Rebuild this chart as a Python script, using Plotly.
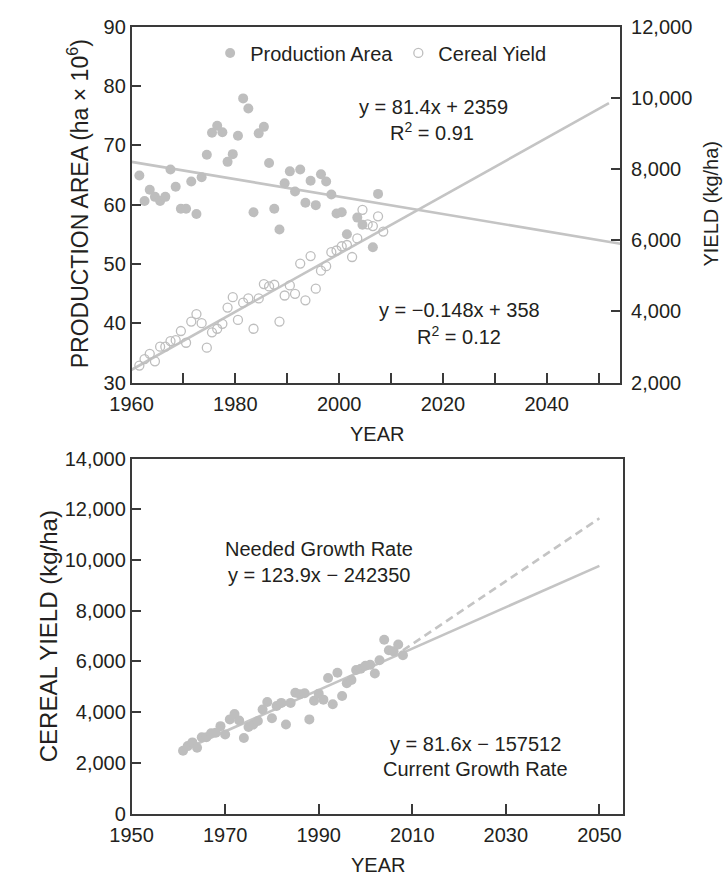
import plotly.graph_objects as go

# ---------------- data ----------------
years = list(range(1961, 2009))
cereal_yield = [2476, 2659, 2806, 2595, 3007, 3007, 3163, 3190, 3447, 3117,
                3712, 3923, 3667, 2980, 3410, 3511, 3648, 4106, 4399, 3758,
                4244, 4363, 3511, 4363, 4766, 4701, 4747, 3712, 4445, 4729,
                4491, 5343, 4308, 5553, 4637, 5141, 5269, 5663, 5709, 5828,
                5864, 5526, 6048, 6853, 6441, 6396, 6670, 6240]

area_years = [1961, 1962, 1963, 1964, 1965, 1966, 1967, 1968, 1969, 1970,
              1971, 1972, 1973, 1974, 1975, 1976, 1977, 1978, 1979, 1980,
              1981, 1982, 1983, 1984, 1985, 1986, 1987, 1988, 1989, 1990,
              1991, 1992, 1993, 1994, 1995, 1996, 1997, 1998, 1999, 2000,
              2001, 2003, 2004, 2006, 2007]
area_values = [64.9, 60.6, 62.5, 61.3, 60.6, 61.3, 65.9, 63.0, 59.3, 59.3,
               63.9, 58.4, 64.6, 68.4, 72.1, 73.3, 72.2, 67.2, 68.5, 71.6,
               77.9, 76.2, 58.7, 72.0, 73.1, 67.0, 59.3, 55.8, 63.6, 65.6,
               62.2, 65.9, 60.3, 64.0, 59.9, 65.1, 63.9, 61.7, 58.5, 58.7,
               55.0, 57.8, 56.6, 52.8, 61.8]

area_trend_years = [1960, 2054.2]
area_trend_values = [67.2, 53.4]
yield_trend_years = [1960, 2052]
yield_trend_values = [2359, 9848]

current_years = [1961, 2050]
current_values = [2506, 9768]
needed_years = [2008, 2050]
needed_values = [6437, 11645]

top_x_ticks = [1960, 1970, 1980, 1990, 2000, 2010, 2020, 2030, 2040, 2050]
top_x_labels = ["1960", "", "1980", "", "2000", "", "2020", "", "2040", ""]
left_ticks = [30, 40, 50, 60, 70, 80, 90]
right_ticks = [2000, 4000, 6000, 8000, 10000, 12000]
bottom_x_ticks = [1950, 1970, 1990, 2010, 2030, 2050]
bottom_y_ticks = [0, 2000, 4000, 6000, 8000, 10000, 12000, 14000]

# ---------------- style ----------------
W, H = 728, 884
FONT = "Liberation Sans, Arial, Helvetica, sans-serif"
TXT = "#231f20"
AX = "#3a3a3a"
PT = "rgb(190,190,190)"
LN = "rgb(196,196,196)"
TICKF = dict(family=FONT, size=20, color=TXT)


def px(xp):
    return xp / W


def py(yp):
    return 1 - yp / H


top_x_dom = [px(113), px(617)]
top_y_dom = [py(381), py(16)]
bot_x_dom = [px(113), px(620)]
bot_y_dom = [py(823), py(459)]

fig = go.Figure()

# top chart
fig.add_trace(go.Scatter(x=area_trend_years, y=area_trend_values, mode="lines",
                         line=dict(color=LN, width=2.6), xaxis="x", yaxis="y",
                         showlegend=False, hoverinfo="skip"))
fig.add_trace(go.Scatter(x=yield_trend_years, y=yield_trend_values, mode="lines",
                         line=dict(color=LN, width=2.6), xaxis="x", yaxis="y2",
                         showlegend=False, hoverinfo="skip"))
fig.add_trace(go.Scatter(x=[y + 0.5 for y in area_years], y=area_values,
                         mode="markers", name="Production Area",
                         marker=dict(size=10, color=PT, line=dict(width=0)),
                         xaxis="x", yaxis="y"))
fig.add_trace(go.Scatter(x=[y + 0.5 for y in years], y=cereal_yield,
                         mode="markers", name="Cereal Yield",
                         marker=dict(size=9, symbol="circle-open", color=PT,
                                     line=dict(width=1.3, color=PT)),
                         xaxis="x", yaxis="y2"))

# bottom chart
fig.add_trace(go.Scatter(x=current_years, y=current_values, mode="lines",
                         line=dict(color=LN, width=2.6), xaxis="x2", yaxis="y3",
                         showlegend=False, hoverinfo="skip"))
fig.add_trace(go.Scatter(x=needed_years, y=needed_values, mode="lines",
                         line=dict(color=LN, width=2.6, dash="8px,5px"),
                         xaxis="x2", yaxis="y3", showlegend=False,
                         hoverinfo="skip"))
fig.add_trace(go.Scatter(x=years, y=cereal_yield, mode="markers",
                         marker=dict(size=10, color=PT, line=dict(width=0)),
                         xaxis="x2", yaxis="y3", showlegend=False))

axis_common = dict(showgrid=False, zeroline=False, showline=True,
                   linecolor=AX, linewidth=1.5, ticks="inside", ticklen=10,
                   tickwidth=1.5, tickcolor=AX, tickfont=TICKF)

fig.update_layout(
    width=W, height=H, autosize=False,
    margin=dict(l=0, r=0, t=0, b=0),
    paper_bgcolor="white", plot_bgcolor="white",
    font=dict(family=FONT, color=TXT),
    xaxis=dict(domain=top_x_dom, range=[1960, 2054.2], anchor="y",
               tickmode="array", tickvals=top_x_ticks, ticktext=top_x_labels,
               mirror=True, ticklabelstandoff=3, **axis_common),
    yaxis=dict(domain=top_y_dom, range=[30, 90], anchor="x",
               tickmode="array", tickvals=left_ticks, **axis_common),
    yaxis2=dict(range=[2000, 12000], overlaying="y", side="right",
                anchor="x", tickmode="array", tickvals=right_ticks,
                tickformat=",d", ticklabelstandoff=5, **axis_common),
    xaxis2=dict(domain=bot_x_dom, range=[1950, 2055.1], anchor="y3",
                tickmode="array", tickvals=bottom_x_ticks, mirror=True,
                ticklabelstandoff=3, **axis_common),
    yaxis3=dict(domain=bot_y_dom, range=[0, 14000], anchor="x2",
                tickmode="array", tickvals=bottom_y_ticks, tickformat=",d",
                mirror=True, **axis_common),
    legend=dict(orientation="h", x=px(194), y=py(43), xanchor="left",
                yanchor="middle", font=dict(family=FONT, size=20, color=TXT),
                bgcolor="rgba(0,0,0,0)", itemwidth=30, traceorder="normal"),
    showlegend=True,
)

ann = []


def text(x, y, s, size=20, angle=0):
    ann.append(dict(x=px(x), y=py(y), xref="paper", yref="paper", text=s,
                    showarrow=False, xanchor="center", yanchor="middle",
                    textangle=angle, font=dict(family=FONT, size=size,
                                               color=TXT)))


# axis titles
text(58, 198, "PRODUCTION AREA (ha \u00d7 10<sup>6</sup>)", size=23, angle=-90)
text(711, 198, "YIELD (kg/ha)", size=20, angle=-90)
text(366, 434, "YEAR", size=20)
text(27, 641, "CEREAL YIELD (kg/ha)", size=24, angle=-90)
text(367, 876, "YEAR", size=20)

# equations
text(424, 98, "y = 81.4x + 2359")
text(423, 124, "R<sup>2</sup> = 0.91")
text(451, 307, "y = \u22120.148x + 358")
text(451, 333, "R<sup>2</sup> = 0.12")
text(306, 552, "Needed Growth Rate")
text(306, 578, "y = 123.9x \u2212 242350")
text(468, 752, "y = 81.6x \u2212 157512")
text(468, 777, "Current Growth Rate")

fig.update_layout(annotations=ann)

fig.write_html("out.html", config={"displayModeBar": False},
               post_script="document.body.style.margin='0';"
                           "document.body.style.overflow='hidden';")
